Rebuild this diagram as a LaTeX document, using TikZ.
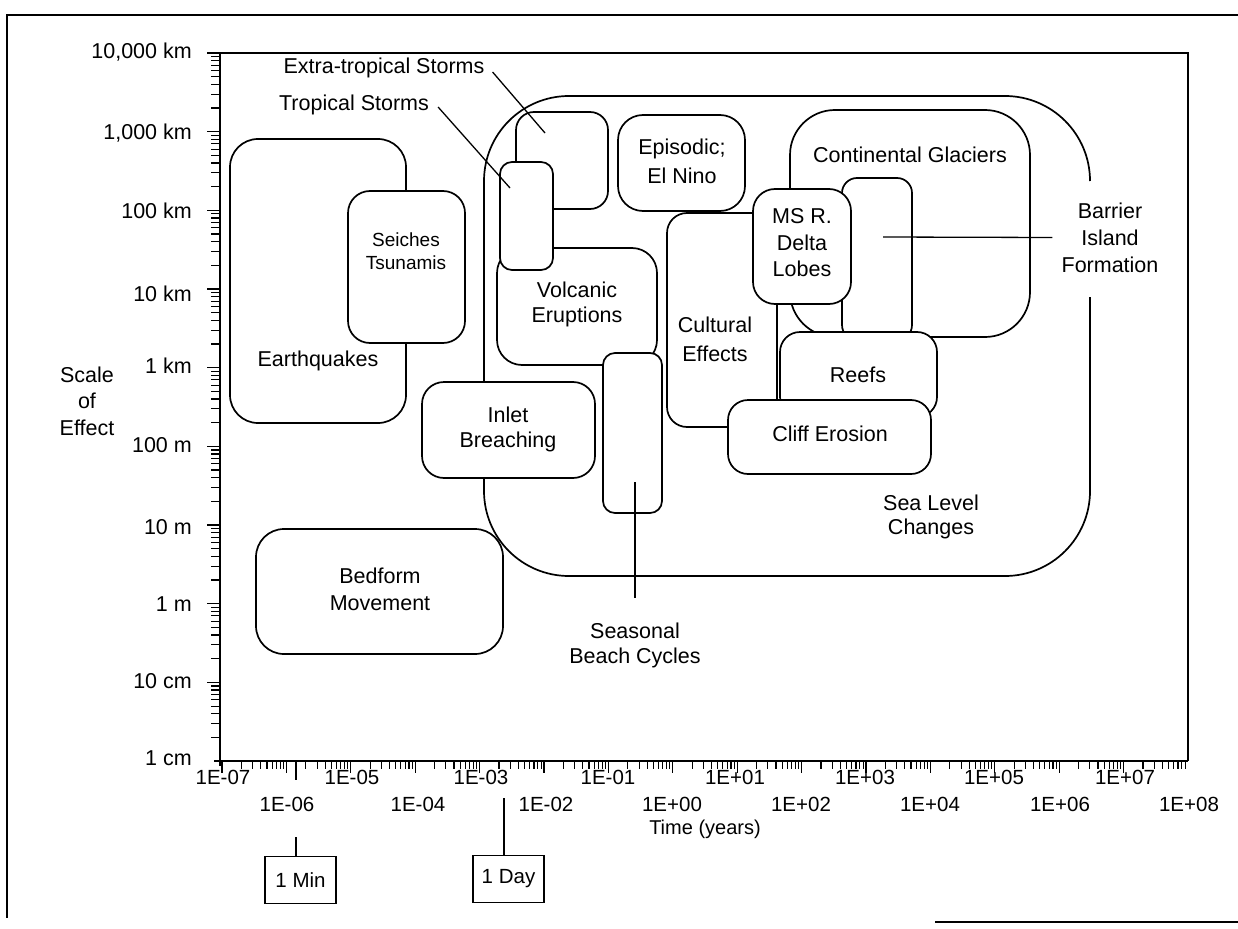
\documentclass[tikz,border=0pt]{standalone}
\usepackage{fontspec}
\setmainfont{Liberation Sans}
\begin{document}
\begin{tikzpicture}[x=1pt,y=-1pt,
  box/.style={draw, line width=1.7pt, fill=white},
  lbl/.style={font=\fontsize{21.5}{27}\selectfont, align=center, inner sep=0pt},
  tlbl/.style={font=\fontsize{20.5}{22}\selectfont, inner sep=0pt},
  markbox/.style={draw, line width=1.5pt, font=\fontsize{20.5}{22}\selectfont, minimum width=71pt, minimum height=47pt, inner sep=0pt},
  lead/.style={line width=1.3pt},
  axisline/.style={line width=2.2pt},
  tk/.style={line width=1.1pt}]
\useasboundingbox (0,0) rectangle (1238,928);
% outer frame
\draw[line width=1.4pt] (1238,15) -- (7,15) -- (7,918);
\draw[line width=1.4pt] (935,922) -- (1238,922);
% plot frame
\draw[line width=1.2pt] (220,53) -- (1188,53) -- (1188,761);
% axes
\draw[axisline] (220,53) -- (220,766);
\draw[axisline] (214,761) -- (1188,761);
% y ticks
\foreach \k in {0,...,8} {
  \pgfmathsetmacro\ytop{53+78.67*\k}
  \draw[tk] (220,\ytop) -- (207,\ytop);
  \foreach \m in {2,...,9} {
    \pgfmathsetmacro\yy{53+78.67*(\k+1)-78.67*log10(\m)}
    \draw[tk] (220,\yy) -- (211,\yy);
  }
}
% x ticks
\foreach \d in {0,...,14} {
  \pgfmathsetmacro\xl{222+64.4*\d}
  \draw[tk] (\xl,761) -- (\xl,773);
  \foreach \m in {2,...,9} {
    \pgfmathsetmacro\xx{222+64.4*(\d+log10(\m))}
    \draw[tk] (\xx,761) -- (\xx,769);
  }
}
% y labels
\node[lbl, anchor=east] (ya) at (192,52) {10,000 km};
\node[lbl, anchor=east] (yb) at (192,133) {1,000 km};
\node[lbl, anchor=east] (yc) at (192,211) {100 km};
\node[lbl, anchor=east] (yd) at (192,294) {10 km};
\node[lbl, anchor=east] (ye) at (192,366) {1 km};
\node[lbl, anchor=east] (yf) at (192,445) {100 m};
\node[lbl, anchor=east] (yg) at (192,527) {10 m};
\node[lbl, anchor=east] (yh) at (192,604) {1 m};
\node[lbl, anchor=east] (yi) at (192,681) {10 cm};
\node[lbl, anchor=east] (yj) at (192,758) {1 cm};
\node[lbl, font=\fontsize{21.5}{26.5}\selectfont] (ytitle) at (87,401) {Scale\\of\\Effect};
% x labels
\node[tlbl] (xa) at (223,777) {1E-07};
\node[tlbl] (xb) at (352,777) {1E-05};
\node[tlbl] (xc) at (481,777) {1E-03};
\node[tlbl] (xd) at (608,777) {1E-01};
\node[tlbl] (xe) at (735,777) {1E+01};
\node[tlbl] (xf) at (865,777) {1E+03};
\node[tlbl] (xg) at (994,777) {1E+05};
\node[tlbl] (xh) at (1125,777) {1E+07};
\node[tlbl] (xi) at (287,804) {1E-06};
\node[tlbl] (xj) at (418,804) {1E-04};
\node[tlbl] (xk) at (546,804) {1E-02};
\node[tlbl] (xl) at (672,804) {1E+00};
\node[tlbl] (xm) at (801,804) {1E+02};
\node[tlbl] (xn) at (930,804) {1E+04};
\node[tlbl] (xo) at (1060,804) {1E+06};
\node[tlbl] (xp) at (1189,804) {1E+08};
\node[tlbl, font=\fontsize{20}{22}\selectfont] (xtitle) at (705,829) {Time (years)};
% time markers
\coordinate (mintick) at (296,762);
\coordinate (mintickend) at (296,780);
\draw[line width=1.5pt] (mintick) -- (mintickend);
\node[markbox] (minbox) at (300.5,880) {1 Min};
\coordinate (minlink) at (296,837);
\draw[line width=1.5pt] (minlink) -- (minlink |- minbox.north);
\node[markbox] (daybox) at (508.5,879) {1 Day};
\coordinate (daylink) at (504,798);
\draw[line width=1.5pt] (daylink) -- (daylink |- daybox.north);
% Sea level changes (open on right for label)
\draw[line width=1.7pt, rounded corners=85pt] (1090,297) -- (1090,576) -- (484,576) -- (484,96) -- (1090,96) -- (1090,181);
% boxes
\draw[box, rounded corners=28pt] (230,139) rectangle (406,423);
\draw[box, rounded corners=22pt] (348,191) rectangle (465,343);
\draw[box, rounded corners=18pt] (516,112) rectangle (608,209);
\draw[box, rounded corners=25pt] (497,248) rectangle (657,365);
\draw[box, rounded corners=12pt] (500,162) rectangle (553,270);
\draw[box, rounded corners=20pt] (667,213) rectangle (777,427);
\draw[box, rounded corners=25pt] (618,115) rectangle (745,211);
\draw[box, rounded corners=45pt] (790,110) rectangle (1030,337);
\draw[box, rounded corners=15pt] (842,178) rectangle (912,340);
\draw[box, rounded corners=22pt] (753,189) rectangle (851,304);
\draw[box, rounded corners=20pt] (780,332) rectangle (937,417);
\draw[box, rounded corners=20pt] (728,400) rectangle (931,474);
\draw[box, rounded corners=22pt] (422,382) rectangle (595,478);
\draw[box, rounded corners=12pt] (603,353) rectangle (662,513);
\draw[box, rounded corners=28pt] (256,529) rectangle (503,654);
% labels
\node[lbl] (eq) at (318,361) {Earthquakes};
\node[lbl, font=\fontsize{19}{23}\selectfont] (sei) at (406,251.5) {Seiches\\Tsunamis};
\node[lbl, font=\fontsize{21.5}{25}\selectfont] (vol) at (577,304.5) {Volcanic\\Eruptions};
\node[lbl, font=\fontsize{21.5}{29}\selectfont] (epi) at (682,161.5) {Episodic;\\El Nino};
\node[lbl, font=\fontsize{21.5}{29}\selectfont] (cul) at (715,339.5) {Cultural\\Effects};
\node[lbl, font=\fontsize{21.5}{26.5}\selectfont] (msr) at (802,243) {MS R.\\Delta\\Lobes};
\node[lbl] (cg) at (910,155) {Continental Glaciers};
\node[lbl] (reef) at (858,375) {Reefs};
\node[lbl] (cliff) at (830,434) {Cliff Erosion};
\node[lbl, font=\fontsize{21.5}{25}\selectfont] (inlet) at (508,429.5) {Inlet\\Breaching};
\node[lbl, font=\fontsize{21.5}{27}\selectfont] (bed) at (380,589) {Bedform\\Movement};
\node[lbl, font=\fontsize{21.5}{24}\selectfont] (sea) at (931,516.5) {Sea Level\\Changes};
\node[lbl, font=\fontsize{21.5}{25}\selectfont] (sbc) at (635,645) {Seasonal\\Beach Cycles};
\node[lbl, font=\fontsize{21.5}{27}\selectfont] (bif) at (1110,237.5) {Barrier\\Island\\Formation};
\node[lbl] (ets) at (384,68) {Extra-tropical Storms};
\node[lbl] (ts) at (354,105) {Tropical Storms};
% leaders
\coordinate (etsend) at (545,133);
\draw[lead] ([xshift=8pt,yshift=-4pt]ets.east) -- (etsend);
\coordinate (tsend) at (510,188);
\draw[lead] ([xshift=9pt,yshift=-2pt]ts.east) -- (tsend);
\coordinate (bifend) at (883,237);
\draw[lead] ([xshift=-9pt]bif.west) -- (bifend);
\coordinate (sbcend) at (635,482);
\coordinate (sbclow) at (635,598);
\draw[lead] (sbcend) -- (sbclow);
\end{tikzpicture}
\end{document}
